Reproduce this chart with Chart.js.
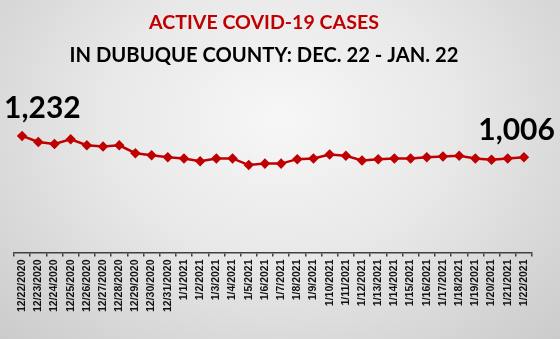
<!DOCTYPE html>
<html>
<head>
<meta charset="utf-8">
<script src="https://cdn.jsdelivr.net/npm/chart.js@4/dist/chart.umd.min.js"></script>
<style>
  html, body { margin: 0; padding: 0; }
  body {
    width: 560px; height: 339px; overflow: hidden;
    background: radial-gradient(ellipse farthest-corner at 50% 35%, #f7f7f7 0%, #e8e8e8 45%, #cbcbcb 100%);
  }
  #wrap { position: relative; width: 560px; height: 339px; }
</style>
</head>
<body>
<div id="wrap"><canvas id="chart"></canvas></div>
<script>
// Data
const dates = [
  '12/22/2020', '12/23/2020', '12/24/2020', '12/25/2020', '12/26/2020', '12/27/2020',
  '12/28/2020', '12/29/2020', '12/30/2020', '12/31/2020', '1/1/2021', '1/2/2021',
  '1/3/2021', '1/4/2021', '1/5/2021', '1/6/2021', '1/7/2021', '1/8/2021', '1/9/2021',
  '1/10/2021', '1/11/2021', '1/12/2021', '1/13/2021', '1/14/2021', '1/15/2021',
  '1/16/2021', '1/17/2021', '1/18/2021', '1/19/2021', '1/20/2021', '1/21/2021', '1/22/2021'
];
const activeCases = [
  1232, 1168, 1147, 1196, 1133, 1119, 1133, 1049, 1028, 1007, 994, 965,
  994, 994, 924, 939, 939, 986, 994, 1036, 1022, 973, 986, 994, 994,
  1007, 1015, 1022, 994, 980, 994, 1006
];
const titleLines = ['ACTIVE COVID-19 CASES', 'IN DUBUQUE COUNTY: DEC. 22 - JAN. 22'];

const fmt = v => v.toLocaleString('en-US');

// titles + end labels drawn on top
const overlay = {
  id: 'overlay',
  afterDraw(chart) {
    const ctx = chart.ctx;
    ctx.save();
    ctx.textBaseline = 'middle';
    ctx.textAlign = 'center';
    ctx.font = 'bold 19.6px Lato';
    ctx.fillStyle = '#c00000';
    ctx.fillText(titleLines[0], 264, 23);
    ctx.font = 'bold 20.2px Lato';
    ctx.fillStyle = '#000';
    ctx.fillText(titleLines[1], 264, 55);

    const pts = chart.getDatasetMeta(0).data;
    const first = pts[0], last = pts[pts.length - 1];
    ctx.font = 'bold 30px Lato';
    ctx.textBaseline = 'alphabetic';
    ctx.textAlign = 'left';
    ctx.fillText(fmt(activeCases[0]), first.x - 18, first.y - 18);
    ctx.textAlign = 'right';
    ctx.fillText(fmt(activeCases[activeCases.length - 1]), last.x + 31, last.y - 17);
    ctx.restore();
  }
};

new Chart(document.getElementById('chart').getContext('2d'), {
  type: 'line',
  data: {
    labels: dates,
    datasets: [{
      data: activeCases,
      borderColor: '#c00000',
      backgroundColor: '#c00000',
      borderWidth: 2.5,
      pointStyle: 'rectRot',
      pointRadius: 3.5,
      pointBackgroundColor: '#c00000',
      pointBorderColor: '#c00000',
      tension: 0
    }]
  },
  options: {
    responsive: true,
    maintainAspectRatio: false,
    animation: false,
    layout: { padding: { left: 14, right: 28, top: 120, bottom: 24 } },
    plugins: { legend: { display: false }, tooltip: { enabled: false } },
    scales: {
      x: {
        offset: true,
        grid: { offset: true, drawOnChartArea: false, tickLength: 4, color: '#404040', lineWidth: 1.5 },
        border: { display: true, color: '#404040', width: 1.5 },
        ticks: {
          color: '#111',
          font: { family: 'Liberation Sans', weight: 'bold', size: 10.5 },
          minRotation: 90, maxRotation: 90, autoSkip: false, padding: 3
        }
      },
      y: { display: false, min: 0, max: 1400 }
    }
  },
  plugins: [overlay]
});
</script>
</body>
</html>
